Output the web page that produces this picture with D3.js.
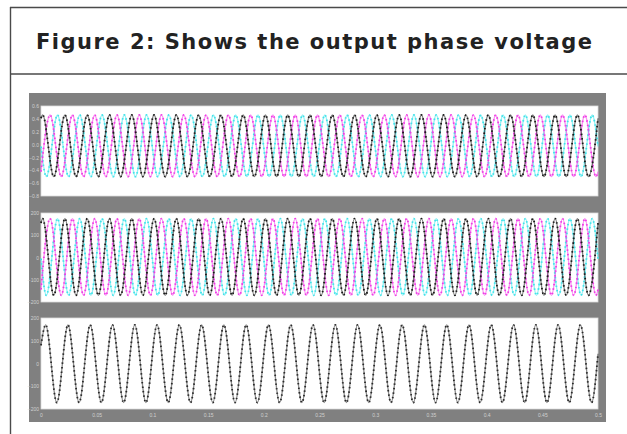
<!doctype html>
<html>
<head>
<meta charset="utf-8">
<script src="https://cdn.jsdelivr.net/npm/d3@7"></script>
<style>
  body { margin: 0; background: #fff; }
  .tick text { fill: #d0d0d0; font: 5px "Liberation Sans", Arial, sans-serif; }
  .tick line { stroke: #bbb; }
  .domain { display: none; }
</style>
</head>
<body>
<svg width="627" height="434"></svg>
<script>

// title and tick labels
let title = "Figure 2: Shows the output phase voltage"
let xTicks = [0, 0.05, 0.1, 0.15, 0.2, 0.25, 0.3, 0.35, 0.4, 0.45, 0.5]
let yTicks1 = [0.6, 0.4, 0.2, 0, -0.2, -0.4, -0.6, -0.8]
let yTicks2 = [200, 100, 0, -100, -200]
let yTicks3 = [200, 100, 0, -100, -200]

// times (s) of the peaks/troughs, with both ends
let tBlack = [0,0.0015,0.0115,0.0215,0.0315,0.0415,0.0515,0.0615,0.0715,0.0815,0.0915,0.1015,0.1115,0.1215,0.1315,0.1415,0.1515,0.1615,0.1715,0.1815,0.1915,0.2015,0.2115,0.2215,0.2315,0.2415,0.2515,0.2615,0.2715,0.2815,0.2915,0.3015,0.3115,0.3215,0.3315,0.3415,0.3515,0.3615,0.3715,0.3815,0.3915,0.4015,0.4115,0.4215,0.4315,0.4415,0.4515,0.4615,0.4715,0.4815,0.4915,0.5]
let tMagenta = [0,0.0082,0.0182,0.0282,0.0382,0.0482,0.0582,0.0682,0.0782,0.0882,0.0982,0.1082,0.1182,0.1282,0.1382,0.1482,0.1582,0.1682,0.1782,0.1882,0.1982,0.2082,0.2182,0.2282,0.2382,0.2482,0.2582,0.2682,0.2782,0.2882,0.2982,0.3082,0.3182,0.3282,0.3382,0.3482,0.3582,0.3682,0.3782,0.3882,0.3982,0.4082,0.4182,0.4282,0.4382,0.4482,0.4582,0.4682,0.4782,0.4882,0.4982,0.5]
let tCyan = [0,0.0048,0.0148,0.0248,0.0348,0.0448,0.0548,0.0648,0.0748,0.0848,0.0948,0.1048,0.1148,0.1248,0.1348,0.1448,0.1548,0.1648,0.1748,0.1848,0.1948,0.2048,0.2148,0.2248,0.2348,0.2448,0.2548,0.2648,0.2748,0.2848,0.2948,0.3048,0.3148,0.3248,0.3348,0.3448,0.3548,0.3648,0.3748,0.3848,0.3948,0.4048,0.4148,0.4248,0.4348,0.4448,0.4548,0.4648,0.4748,0.4848,0.4948,0.5]
let tSingle = [0,0.0042,0.0142,0.0242,0.0342,0.0442,0.0542,0.0642,0.0742,0.0842,0.0942,0.1042,0.1142,0.1242,0.1342,0.1442,0.1542,0.1642,0.1742,0.1842,0.1942,0.2042,0.2142,0.2242,0.2342,0.2442,0.2542,0.2642,0.2742,0.2842,0.2942,0.3042,0.3142,0.3242,0.3342,0.3442,0.3542,0.3642,0.3742,0.3842,0.3942,0.4042,0.4142,0.4242,0.4342,0.4442,0.4542,0.4642,0.4742,0.4842,0.4942,0.5]

// panel 1 values at those times
let p1Black = [0.41,0.46,-0.5,0.46,-0.5,0.46,-0.5,0.46,-0.5,0.46,-0.5,0.46,-0.5,0.46,-0.5,0.46,-0.5,0.46,-0.5,0.46,-0.5,0.46,-0.5,0.46,-0.5,0.46,-0.5,0.46,-0.5,0.46,-0.5,0.46,-0.5,0.46,-0.5,0.46,-0.5,0.46,-0.5,0.46,-0.5,0.46,-0.5,0.46,-0.5,0.46,-0.5,0.46,-0.5,0.46,-0.5,0.41]
let p1Magenta = [-0.42,0.46,-0.5,0.46,-0.5,0.46,-0.5,0.46,-0.5,0.46,-0.5,0.46,-0.5,0.46,-0.5,0.46,-0.5,0.46,-0.5,0.46,-0.5,0.46,-0.5,0.46,-0.5,0.46,-0.5,0.46,-0.5,0.46,-0.5,0.46,-0.5,0.46,-0.5,0.46,-0.5,0.46,-0.5,0.46,-0.5,0.46,-0.5,0.46,-0.5,0.46,-0.5,0.46,-0.5,0.46,-0.5,-0.42]
let p1Cyan = [-0.03,-0.5,0.46,-0.5,0.46,-0.5,0.46,-0.5,0.46,-0.5,0.46,-0.5,0.46,-0.5,0.46,-0.5,0.46,-0.5,0.46,-0.5,0.46,-0.5,0.46,-0.5,0.46,-0.5,0.46,-0.5,0.46,-0.5,0.46,-0.5,0.46,-0.5,0.46,-0.5,0.46,-0.5,0.46,-0.5,0.46,-0.5,0.46,-0.5,0.46,-0.5,0.46,-0.5,0.46,-0.5,0.46,-0.03]

// panel 2 values
let p2Black = [155,175,-170,175,-170,175,-170,175,-170,175,-170,175,-170,175,-170,175,-170,175,-170,175,-170,175,-170,175,-170,175,-170,175,-170,175,-170,175,-170,175,-170,175,-170,175,-170,175,-170,175,-170,175,-170,175,-170,175,-170,175,-170,155]
let p2Magenta = [-144,175,-170,175,-170,175,-170,175,-170,175,-170,175,-170,175,-170,175,-170,175,-170,175,-170,175,-170,175,-170,175,-170,175,-170,175,-170,175,-170,175,-170,175,-170,175,-170,175,-170,175,-170,175,-170,175,-170,175,-170,175,-170,-144]
let p2Cyan = [-5,-170,175,-170,175,-170,175,-170,175,-170,175,-170,175,-170,175,-170,175,-170,175,-170,175,-170,175,-170,175,-170,175,-170,175,-170,175,-170,175,-170,175,-170,175,-170,175,-170,175,-170,175,-170,175,-170,175,-170,175,-170,175,-5]

// panel 3 values
let p3Phase = [80,170,-172,170,-172,170,-172,170,-172,170,-172,170,-172,170,-172,170,-172,170,-172,170,-172,170,-172,170,-172,170,-172,170,-172,170,-172,170,-172,170,-172,170,-172,170,-172,170,-172,170,-172,170,-172,170,-172,170,-172,170,-172,43]

let svg = d3.select("svg")

// frame around the figure
let frame = svg.append("g").attr("stroke", "#4a4a4a").attr("stroke-width", 1.4)
frame.append("line").attr("x1", 10.5).attr("y1", 7).attr("x2", 10.5).attr("y2", 434)
frame.append("line").attr("x1", 10).attr("y1", 7.5).attr("x2", 627).attr("y2", 7.5)
frame.append("line").attr("x1", 10).attr("y1", 74).attr("x2", 627).attr("y2", 74)

svg.append("text")
   .attr("x", 36).attr("y", 49)
   .attr("textLength", 556).attr("lengthAdjust", "spacing")
   .style("font", "bold 21px 'DejaVu Sans', Verdana, sans-serif")
   .attr("fill", "#222")
   .text(title)

// grey scope window
svg.append("rect").attr("x", 29).attr("y", 93).attr("width", 577).attr("height", 329).attr("fill", "#808080")

let x = d3.scaleLinear().domain([0, 0.5]).range([41, 598])

let panels = [
  { top: 106, bottom: 196, domain: [-0.8, 0.6], ticks: yTicks1,
    series: [[tCyan, p1Cyan, "#3fe3ea"], [tMagenta, p1Magenta, "#f03ce6"], [tBlack, p1Black, "#1a1a1a"]] },
  { top: 213, bottom: 302, domain: [-200, 200], ticks: yTicks2,
    series: [[tCyan, p2Cyan, "#3fe3ea"], [tMagenta, p2Magenta, "#f03ce6"], [tBlack, p2Black, "#1a1a1a"]] },
  { top: 318, bottom: 409, domain: [-200, 200], ticks: yTicks3,
    series: [[tSingle, p3Phase, "#2a2a2a"]] }
]

panels.forEach(function(p, i) {
  let y = d3.scaleLinear().domain(p.domain).range([p.bottom, p.top])
  let g = svg.append("g")

  g.append("rect")
    .attr("x", 41).attr("y", p.top).attr("width", 557).attr("height", p.bottom - p.top)
    .attr("fill", "#fff").attr("stroke", "#ddd").attr("stroke-width", 0.8)

  g.append("g")
    .attr("transform", "translate(41,0)")
    .call(d3.axisLeft(y).tickValues(p.ticks).tickSize(0).tickPadding(2))

  if (i == 2) {
    g.append("g")
      .attr("transform", "translate(0," + (p.bottom + 2) + ")")
      .call(d3.axisBottom(x).tickValues(xTicks).tickSize(0).tickPadding(2).tickFormat(d => d))
  }

  let line = d3.line()
    .x(d => x(d[0]))
    .y(d => y(d[1]))
    .curve(d3.curveMonotoneX)

  p.series.forEach(function(s) {
    let pts = s[0].map((t, j) => [t, s[1][j]])
    g.append("path").datum(pts)
      .attr("d", line).attr("fill", "none")
      .attr("stroke", s[2]).attr("stroke-width", 1.3).attr("stroke-opacity", 0.55)
    g.append("path").datum(pts)
      .attr("d", line).attr("fill", "none")
      .attr("stroke", s[2]).attr("stroke-width", 1.8)
      .attr("stroke-dasharray", "1.5,3")
  })
})

</script>
</body>
</html>
